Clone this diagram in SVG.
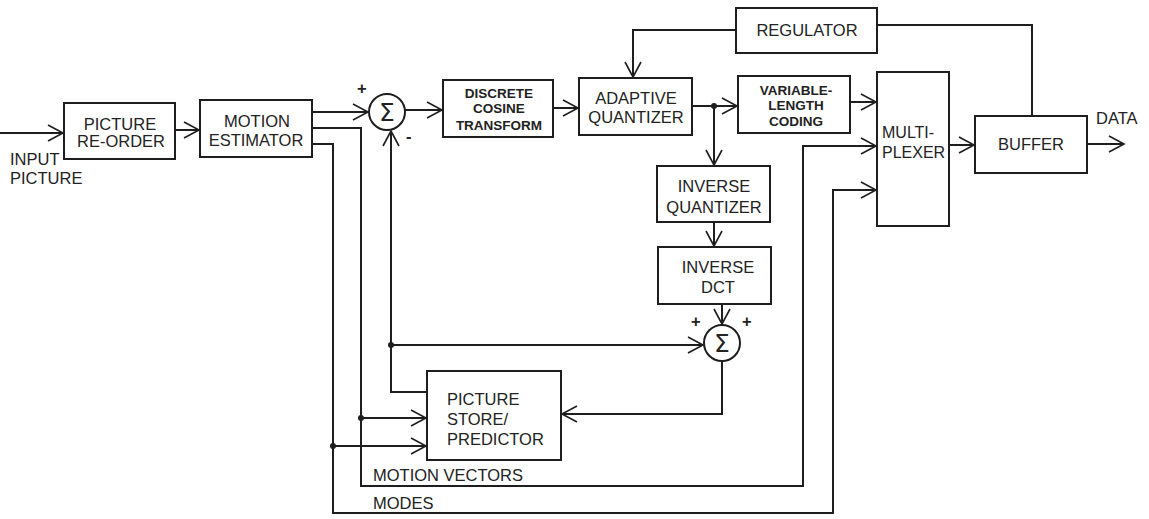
<svg xmlns="http://www.w3.org/2000/svg" width="1149" height="519" viewBox="0 0 1149 519">
<defs>
<marker id="ah" viewBox="-17 -10 19 20" markerWidth="19" markerHeight="20" refX="0" refY="0" orient="auto" markerUnits="userSpaceOnUse">
<path d="M-15,-8 L0,0 L-15,8" fill="none" stroke="#1e1e1e" stroke-width="1.6"/>
</marker>
<style>
.box{fill:none;stroke:#1e1e1e;stroke-width:2}
.ln{fill:none;stroke:#1e1e1e;stroke-width:2}
.ar{marker-end:url(#ah)}
.t{font-family:"Liberation Sans",Arial,sans-serif;font-size:16.5px;fill:#222}
.c{text-anchor:middle}
.s{font-size:13.5px;font-weight:bold}
.sig{font-family:"DejaVu Sans","Liberation Sans",sans-serif;font-size:25px;fill:#222;text-anchor:middle}
.dot{fill:#1e1e1e}
</style>
</defs>
<rect width="1149" height="519" fill="#fff"/>

<g id="connectors">
<path class="ln ar" d="M0,133 L63,133"/>
<path class="ln ar" d="M175,130 L199,130"/>
<path class="ln ar" d="M312,112 L368,112"/>
<path class="ln ar" d="M312,128 L361,128 L361,486 L803,486 L803,146 L876,146"/>
<path class="ln ar" d="M312,144 L333,144 L333,513 L833,513 L833,190 L876,190"/>
<path class="ln ar" d="M427,392 L391,392 L391,131"/>
<path class="ln ar" d="M391,345 L703,345"/>
<path class="ln ar" d="M405,110 L442,110"/>
<path class="ln ar" d="M553,108 L578,108"/>
<path class="ln ar" d="M692,106 L737,106"/>
<path class="ln ar" d="M714,106 L714,165"/>
<path class="ln ar" d="M714,222 L714,246"/>
<path class="ln ar" d="M722,304 L722,324"/>
<path class="ln ar" d="M722,362 L722,414 L562,414"/>
<path class="ln ar" d="M361,418 L426,418"/>
<path class="ln ar" d="M333,446 L426,446"/>
<path class="ln ar" d="M850,102 L876,102"/>
<path class="ln ar" d="M949,145 L974,145"/>
<path class="ln ar" d="M1087,144 L1124,144"/>
<path class="ln" d="M1032,116 L1032,25 L877,25"/>
<path class="ln ar" d="M736,30 L633,30 L633,77"/>
<circle class="dot" cx="714" cy="106" r="3"/>
<circle class="dot" cx="391" cy="345" r="3"/>
<circle class="dot" cx="361" cy="418" r="3"/>
<circle class="dot" cx="333" cy="446" r="3"/>
<text class="t" x="10" y="165">INPUT</text>
<text class="t" x="10" y="184">PICTURE</text>
<text class="t" x="373" y="481">MOTION VECTORS</text>
<text class="t" x="373" y="509">MODES</text>
<text class="t" x="1096" y="124">DATA</text>
</g>

<g id="reorder">
<rect class="box" x="64" y="103" width="111" height="56"/>
<text class="t c" x="120" y="130">PICTURE</text>
<text class="t c" x="121" y="147">RE-ORDER</text>
</g>

<g id="motion-estimator">
<rect class="box" x="200" y="100" width="112" height="57"/>
<text class="t c" x="257" y="127">MOTION</text>
<text class="t c" x="256" y="146">ESTIMATOR</text>
</g>

<g id="sum1">
<circle class="box" cx="387" cy="112" r="18"/>
<text class="sig" x="387" y="121">Σ</text>
<text class="t" x="357" y="94" style="font-weight:bold">+</text>
<text class="t" x="406" y="142" style="font-weight:bold">-</text>
</g>

<g id="dct">
<rect class="box" x="443" y="80" width="110" height="57"/>
<text class="t c s" x="499" y="98">DISCRETE</text>
<text class="t c s" x="499" y="113">COSINE</text>
<text class="t c s" x="499" y="130">TRANSFORM</text>
</g>

<g id="adaptive-quantizer">
<rect class="box" x="579" y="78" width="113" height="57"/>
<text class="t c" x="636" y="104">ADAPTIVE</text>
<text class="t c" x="636" y="123">QUANTIZER</text>
</g>

<g id="vlc">
<rect class="box" x="738" y="76" width="112" height="57"/>
<text class="t c s" x="796" y="95">VARIABLE-</text>
<text class="t c s" x="796" y="110">LENGTH</text>
<text class="t c s" x="796" y="126">CODING</text>
</g>

<g id="regulator">
<rect class="box" x="736" y="8" width="141" height="45"/>
<text class="t c" x="807" y="36">REGULATOR</text>
</g>

<g id="multiplexer">
<rect class="box" x="877" y="72" width="72" height="154"/>
<text class="t" x="882" y="138" style="font-size:16px">MULTI-</text>
<text class="t" x="882" y="158" style="font-size:16px">PLEXER</text>
</g>

<g id="buffer">
<rect class="box" x="975" y="116" width="112" height="57"/>
<text class="t c" x="1031" y="150">BUFFER</text>
</g>

<g id="inverse-quantizer">
<rect class="box" x="657" y="166" width="113" height="56"/>
<text class="t c" x="714" y="192">INVERSE</text>
<text class="t c" x="714" y="213">QUANTIZER</text>
</g>

<g id="inverse-dct">
<rect class="box" x="658" y="247" width="113" height="57"/>
<text class="t c" x="718" y="273">INVERSE</text>
<text class="t c" x="718" y="293">DCT</text>
</g>

<g id="sum2">
<circle class="box" cx="722" cy="343" r="18"/>
<text class="sig" x="722" y="352">Σ</text>
<text class="t" x="691" y="327" style="font-weight:bold">+</text>
<text class="t" x="742" y="327" style="font-weight:bold">+</text>
</g>

<g id="picture-store">
<rect class="box" x="427" y="371" width="134" height="89"/>
<text class="t" x="447" y="405">PICTURE</text>
<text class="t" x="447" y="425">STORE/</text>
<text class="t" x="447" y="445">PREDICTOR</text>
</g>
</svg>
